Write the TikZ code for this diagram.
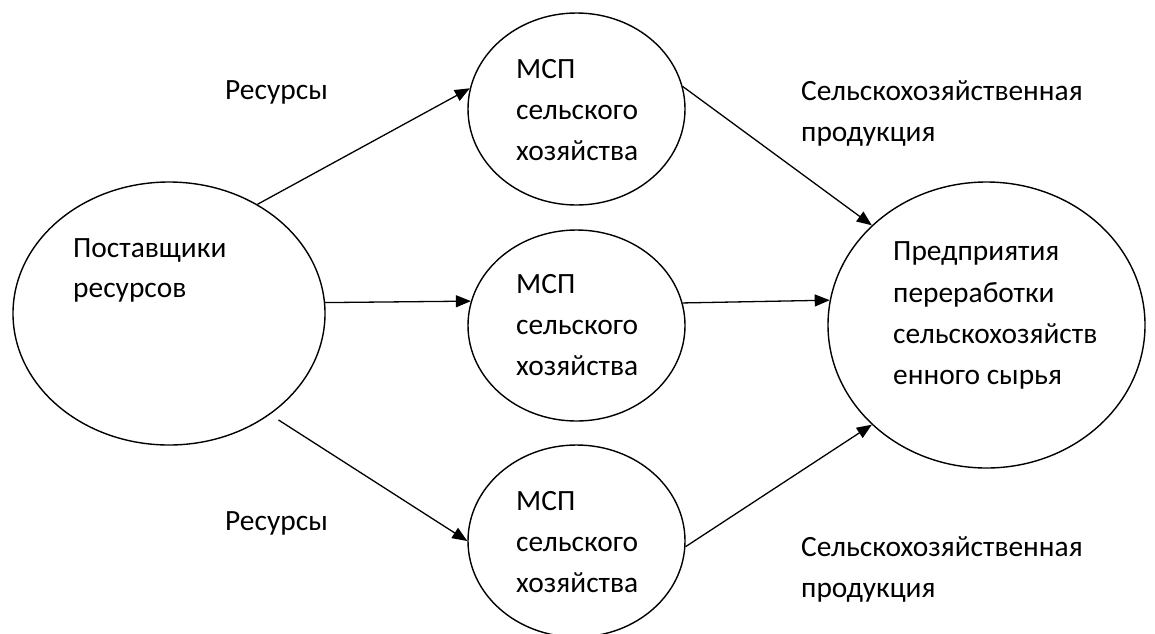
\documentclass[tikz,border=0pt]{standalone}
\usepackage{fontspec}
\setmainfont{Carlito}
\usetikzlibrary{arrows.meta,shapes.geometric}
\begin{document}
\begin{tikzpicture}[x=1pt,y=-1pt,
  oval/.style={draw,ellipse,line width=1.4pt,inner sep=0pt},
  txt/.style={anchor=base west,inner sep=0pt,font=\fontsize{29.4}{35}\selectfont},
  conn/.style={line width=1.3pt,-{Triangle[length=15pt,width=12pt]}}]
\useasboundingbox (0,0) rectangle (1155,633);
% ellipses
\node[oval,minimum width=312pt,minimum height=263pt] (L) at (169,313.5) {};
\node[oval,minimum width=217pt,minimum height=192pt] (T) at (576.5,109) {};
\node[oval,minimum width=217pt,minimum height=191pt] (M) at (576.5,325.5) {};
\node[oval,minimum width=217pt,minimum height=192pt] (B) at (576.5,541) {};
\node[oval,minimum width=317pt,minimum height=286pt] (R) at (986.5,325) {};
% texts
\node[txt] (tl1) at (73,257) {Поставщики};
\node[txt] (tl2) at (73,297) {ресурсов};
\node[txt] (tt1) at (516,78) {МСП};
\node[txt] (tt2) at (516,119) {сельского};
\node[txt] (tt3) at (516,160) {хозяйства};
\node[txt] (tm1) at (516,293) {МСП};
\node[txt] (tm2) at (516,334) {сельского};
\node[txt] (tm3) at (516,375) {хозяйства};
\node[txt] (tb1) at (516,510) {МСП};
\node[txt] (tb2) at (516,551) {сельского};
\node[txt] (tb3) at (516,592) {хозяйства};
\node[txt] (tr1) at (893,260) {Предприятия};
\node[txt] (tr2) at (893,302) {переработки};
\node[txt] (tr3) at (893,343) {сельскохозяйств};
\node[txt] (tr4) at (893,384) {енного сырья};
\node[txt] (res1) at (225,99) {Ресурсы};
\node[txt] (res2) at (225,530) {Ресурсы};
\node[txt] (pr1) at (801,100) {Сельскохозяйственная};
\node[txt] (pr1b) at (801,141) {продукция};
\node[txt] (pr2) at (801,556) {Сельскохозяйственная};
\node[txt] (pr2b) at (801,597) {продукция};
% connectors
\draw[conn] (L.51.85) -- (T.169);
\draw[conn] (L.4.2) -- (M.167.8);
\draw[conn,shorten <=10pt] (L.-45) -- (B.180);
\draw[conn] (T.12.5) -- (R.139);
\draw[conn] (M.12.2) -- (R.171.8);
\draw[conn] (B.-3.7) -- (R.-139.3);
\end{tikzpicture}
\end{document}
